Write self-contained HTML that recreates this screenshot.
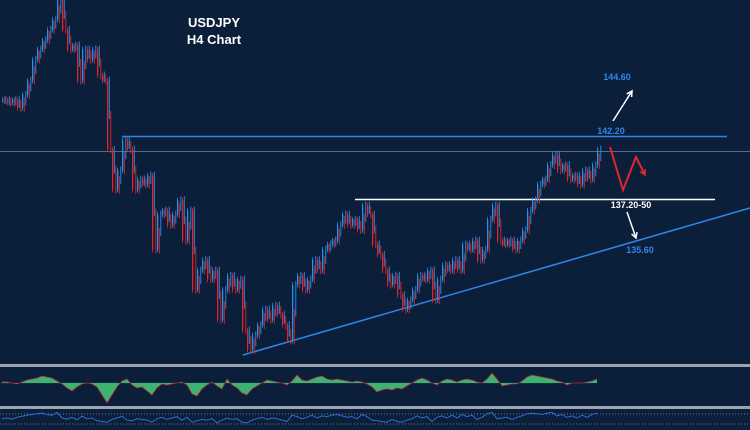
<!DOCTYPE html>
<html><head><meta charset="utf-8">
<style>
html,body{margin:0;padding:0;background:#0b1f3b;}
svg{display:block;}
text{font-family:"Liberation Sans",sans-serif;font-weight:bold;}
</style></head>
<body>
<svg id="chart" width="750" height="430" viewBox="0 0 750 430" xmlns="http://www.w3.org/2000/svg">
  <rect x="0" y="0" width="750" height="430" fill="#0b1f3b"/>
  <text x="214" y="27" fill="#ffffff" font-size="13" text-anchor="middle">USDJPY</text>
  <text x="214" y="44" fill="#ffffff" font-size="13" text-anchor="middle">H4 Chart</text>
  <g id="levels"></g>
  <g id="candles"></g>
  <g id="annot"></g>
  <rect x="0" y="364" width="750" height="3" fill="#9aa4b0"/>
  <line x1="0" y1="383" x2="595" y2="383" stroke="#1b3557" stroke-width="1"/>
  <g id="osc"></g>
  <rect x="0" y="406" width="750" height="3" fill="#9aa4b0"/>
  <line x1="0" y1="414" x2="750" y2="414" stroke="#6d7a8c" stroke-width="1" stroke-dasharray="1,2"/>
  <line x1="0" y1="424" x2="750" y2="424" stroke="#6d7a8c" stroke-width="1" stroke-dasharray="1,2"/>
  <g id="rsi"></g>
</svg>
<script>
const closes = [145.0,144.8,145.0,144.4,145.4,146.5,148.1,148.9,149.6,150.4,151.2,152.7,150.4,148.9,149.2,146.5,148.9,148.1,148.9,146.9,
146.5,141.2,138.1,139.6,141.9,141.2,138.1,138.9,138.5,139.2,133.5,136.2,136.5,135.4,136.2,137.3,134.2,136.5,130.4,131.9,
132.7,131.2,131.9,128.1,130.4,131.5,130.4,131.2,127.3,125.8,126.9,127.7,128.9,128.1,129.2,128.5,127.7,126.5,130.8,131.5,
130.4,131.2,132.7,131.9,133.5,133.9,134.2,135.4,136.2,135.4,135.8,135.0,136.9,136.2,133.9,133.1,131.9,130.8,131.5,130.0,
128.9,129.6,130.4,131.5,131.2,131.9,129.6,131.2,132.3,131.9,132.7,131.9,133.9,133.5,134.2,132.7,133.5,135.8,136.9,134.2,
133.9,134.2,133.5,134.2,135.0,136.5,137.3,138.5,138.9,140.0,140.8,139.6,140.0,138.9,139.2,138.5,139.6,138.9,140.0,141.2];
const oscValues = [1,1,0,-1,1,3,4,5,7,6,5,2,-1,-5,-8,-4,-1,0,-1,-4,-12,-20,-12,-4,2,4,-2,-5,-4,-8,-12,-5,-1,-2,-1,0,1,-2,-11,-13,
-6,-2,1,-3,-6,4,-2,-5,-10,-12,-6,-3,0,3,2,1,0,-2,2,8,3,2,4,6,7,4,3,4,3,2,1,2,1,-1,-4,-9,-7,-6,-7,-5,
-6,-3,0,3,5,3,0,-2,2,4,3,1,3,4,3,1,0,4,10,4,-3,-2,-1,-1,2,6,8,7,6,5,4,2,1,-2,0,0,0,1,2,4];
const rsiValues = [48,50,47,52,55,58,60,62,64,60,58,66,50,47,52,45,55,48,50,42,40,38,46,50,55,44,42,48,46,44,38,48,52,46,50,54,44,52,38,42,
46,44,48,36,44,50,46,48,38,36,44,48,52,46,50,48,44,40,58,54,48,52,58,50,56,54,58,60,56,52,54,48,60,54,44,42,40,38,46,40,
38,44,48,56,50,54,40,52,56,50,58,50,60,54,58,46,52,62,66,48,50,52,46,52,56,62,64,62,60,64,66,56,60,52,56,50,58,52,60,64];
const levelPrices = [142.2, 141.05, 137.35];

const NS="http://www.w3.org/2000/svg";
const priceTop=152.7, pxPerUnit=13, dx=5, x0=2;
function yScale(p){return (priceTop-p)*pxPerUnit;}
function xScale(i){return x0+i*dx;}
function oscY(v){return 383-v;}
function rsiY(v){return 418-(v-50)*0.35;}
function mk(tag,attrs,parent){const e=document.createElementNS(NS,tag);for(const k in attrs)e.setAttribute(k,attrs[k]);parent.appendChild(e);return e;}

const lv=document.getElementById('levels');
let l1=mk('line',{x1:122,x2:727,y1:yScale(levelPrices[0]),y2:yScale(levelPrices[0]),stroke:'#2f86e6','stroke-width':1.5},lv);


let l2=mk('line',{x1:0,x2:750,y1:yScale(levelPrices[1]),y2:yScale(levelPrices[1]),stroke:'#5b6b80','stroke-width':1},lv);


let l3=mk('line',{x1:355,x2:715,y1:yScale(levelPrices[2]),y2:yScale(levelPrices[2]),stroke:'#ffffff','stroke-width':1.5},lv);


let tl=mk('line',{x1:243,y1:355,x2:750,y2:208,stroke:'#2f86e6','stroke-width':1.5},lv);



const cg=document.getElementById('candles');
for(let i=0;i<closes.length;i++){
  const o=i?closes[i-1]:closes[0], c=closes[i];
  const up=c>=o, col=up?'#2a8fe8':'#e0262b';
  const hi=Math.max(o,c)+0.2, lo=Math.min(o,c)-0.2;
  const x=xScale(i);
  const g=mk('g',{},cg);
  
  
  mk('line',{x1:x+0.6,x2:x+0.6,y1:yScale(hi),y2:yScale(lo),stroke:col,'stroke-width':0.8},g);
  const yt=yScale(Math.max(o,c)), yb=yScale(Math.min(o,c));
  mk('rect',{x:x,y:yt,width:1.3,height:Math.max(1,yb-yt),fill:col},g);
  const mid=(o+c)/2;
  mk('line',{x1:x+2.3,x2:x+2.3,y1:yScale(Math.max(o,mid)+0.3),y2:yScale(Math.min(o,mid)-0.3),stroke:up?'#e0262b':'#2a8fe8','stroke-width':0.9},g);
  mk('line',{x1:x+3.8,x2:x+3.8,y1:yScale(Math.max(c,mid)+0.3),y2:yScale(Math.min(c,mid)-0.3),stroke:col,'stroke-width':0.9},g);
}

const an=document.getElementById('annot');
function txt(s,x,y,col,name){const t=mk('text',{x:x,y:y,fill:col,'font-size':9,'text-anchor':'middle'},an);t.textContent=s;}
txt('144.60',617,80,'#2f86e6','label-144-60');
txt('142.20',611,134,'#2f86e6','label-142-20');
txt('137.20-50',631,208,'#ffffff','label-137-20-50');
txt('135.60',640,253,'#2f86e6','label-135-60');
function arrow(x1,y1,x2,y2,col,name){
  const g=mk('g',{},an);
  mk('line',{x1:x1,y1:y1,x2:x2,y2:y2,stroke:col,'stroke-width':1.5},g);
  const a=Math.atan2(y2-y1,x2-x1),L=6;
  mk('polyline',{points:`${x2-L*Math.cos(a-0.5)},${y2-L*Math.sin(a-0.5)} ${x2},${y2} ${x2-L*Math.cos(a+0.5)},${y2-L*Math.sin(a+0.5)}`,fill:'none',stroke:col,'stroke-width':1.5},g);
}
arrow(613,121,632,91,'#ffffff','up-target-arrow');
arrow(627,212,636,238,'#ffffff','down-target-arrow');
const zz=mk('polyline',{points:'610,147 623,190 636,157 645,175',fill:'none',stroke:'#e0262b','stroke-width':2},an);


arrow(636,157,645,175,'#e0262b','projected-arrowhead');

const og=document.getElementById('osc');
let pts=`${xScale(0)},383 `+oscValues.map((v,i)=>`${xScale(i)},${oscY(v)}`).join(' ')+` ${xScale(oscValues.length-1)},383`;
const area=mk('polygon',{points:pts,fill:'#3cb371'},og);


const oline=mk('polyline',{points:oscValues.map((v,i)=>`${xScale(i)},${oscY(v)}`).join(' '),fill:'none',stroke:'#b2202a','stroke-width':0.8},og);



const rg=document.getElementById('rsi');
const rl=mk('polyline',{points:rsiValues.map((v,i)=>`${xScale(i)},${rsiY(v)}`).join(' '),fill:'none',stroke:'#2a6fd0','stroke-width':1},rg);


</script>
</body></html>
